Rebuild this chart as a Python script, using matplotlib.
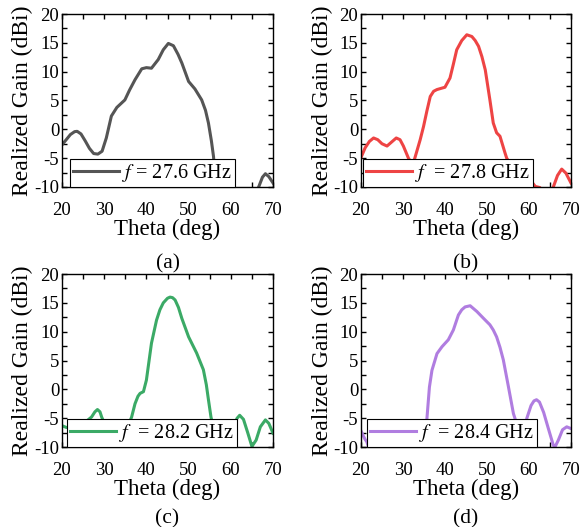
import matplotlib
matplotlib.use("Agg")
from matplotlib import pyplot as plt
from matplotlib.ticker import MultipleLocator

plt.rcParams['font.family'] = ['Liberation Serif', 'DejaVu Serif']
plt.rcParams['mathtext.fontset'] = 'stix'
plt.rcParams['axes.unicode_minus'] = False

# theta (deg) and realized gain (dBi)
theta_a = [20, 21, 22, 23, 23.6, 24.5, 25.5, 26.5, 27.5, 28.5, 29.5, 30.5, 31.7, 33, 34.9,
           36, 37.3, 38.9, 40, 41.2, 42.8, 44, 45.2, 46.4, 47.5, 48.4, 50, 51.5, 53.1,
           54, 54.7, 55.4, 55.9, 56.5, 58, 62, 65.5, 66.6, 67.5, 68.2, 69, 70]
gain_a = [-2.7, -1.8, -0.9, -0.4, -0.35, -0.8, -2.0, -3.3, -4.2, -4.3, -3.8, -1.5, 2.3, 3.8, 5.1,
          6.8, 8.6, 10.5, 10.7, 10.6, 12.1, 13.8, 14.9, 14.5, 13.0, 11.5, 8.3, 7.0, 5.1,
          3.3, 1.1, -2.0, -4.7, -10.2, -14, -16, -12, -10, -8.3, -7.7, -8.2, -9.3]

theta_b = [20, 21, 22, 23, 24, 25, 26.2, 27.3, 28.4, 29.3, 30.1, 31.3, 32, 32.7, 33.3,
           34.1, 34.9, 35.7, 36.5, 37.3, 38.1, 40, 41.2, 42, 42.8, 44, 45.2, 46.4, 47.2,
           48, 48.8, 49.6, 50.7, 51.5, 52.3, 53.1, 54.3, 54.7, 56, 58, 60, 61.5, 62.6,
           64, 65.8, 66.8, 67.8, 68.8, 70]
gain_b = [-4.9, -3.2, -2.1, -1.5, -1.8, -2.5, -2.9, -2.2, -1.5, -1.8, -2.9, -5.0, -5.8, -5.3, -3.8,
          -1.8, 0.5, 3.2, 5.7, 6.6, 6.9, 7.3, 8.9, 11.3, 13.8, 15.4, 16.4, 16.1, 15.4,
          14.4, 12.6, 10.3, 5.1, 1.1, -0.6, -1.2, -4.1, -5.0, -6.5, -7.5, -8.5, -9.9, -10.1,
          -12, -10, -8.0, -6.9, -7.6, -9.3]

theta_c = [20, 21, 23, 25, 27, 27.8, 28.4, 29, 29.4, 31, 33, 35, 36.5, 37.3, 38, 38.5,
           39.3, 40, 40.6, 41.2, 42.4, 43.2, 44, 45, 45.6, 46.2, 46.8, 47.6, 48.4, 50,
           51.9, 53.5, 54.2, 54.7, 55.3, 56.3, 57.5, 59, 60.5, 61.5, 62.1, 63, 64, 65,
           66, 67, 68.2, 69, 70]
gain_c = [-6.3, -6.6, -6.8, -6.0, -4.8, -3.9, -3.5, -3.9, -4.8, -7.5, -8.5, -7.5, -4.8, -2.5, -1.2, -0.7,
          -0.4, 1.6, 4.8, 8.0, 12.0, 13.8, 15.0, 15.8, 16.0, 15.9, 15.5, 14.2, 12.3, 9.1,
          6.3, 3.4, 0.8, -1.8, -4.8, -8.0, -10.3, -9.0, -6.5, -5.0, -4.5, -5.2, -7.5, -9.9,
          -8.8, -6.5, -5.3, -5.9, -7.6]

theta_d = [20, 20.5, 21, 21.4, 22, 25, 28, 31, 33, 34.5, 35.2, 35.7, 36.3, 36.9, 38.1, 39.3,
           40.8, 42, 43.2, 44, 44.8, 46, 47.6, 49.2, 50.7, 51.5, 52.3, 53.1, 53.9, 55.1,
           56.3, 56.7, 57.5, 58.3, 59, 59.5, 60.5, 61.2, 61.8, 62.5, 63.5, 64.5, 65.8,
           66.2, 67, 68, 69, 70]
gain_d = [-7.2, -8.0, -8.7, -9.1, -10.5, -14, -16, -15, -12, -9.0, -7.0, -5.1, 0.4, 3.3, 6.2, 7.4,
          8.6, 10.3, 12.9, 13.8, 14.3, 14.5, 13.5, 12.3, 11.2, 10.3, 9.1, 7.3, 5.1, 0.5,
          -4.2, -5.1, -8.0, -10.0, -7.0, -5.0, -2.8, -2.0, -1.8, -2.2, -4.0, -6.5, -9.7,
          -10.0, -8.8, -7.0, -6.5, -6.8]

thetas = [theta_a, theta_b, theta_c, theta_d]
gains = [gain_a, gain_b, gain_c, gain_d]
legend_labels = ['$f$ = 27.6 GHz', '$f$  = 27.8 GHz', '$f$  = 28.2 GHz', '$f$  = 28.4 GHz']
colors = ['#555555', '#EE4444', '#3BAA66', '#B07DE0']
panel_tags = ['(a)', '(b)', '(c)', '(d)']

fig = plt.figure(figsize=(5.81, 5.27), dpi=100)

# axes boxes in figure fraction: left, bottom, width, height
boxes = [[0.1067, 0.6452, 0.3632, 0.3282],
         [0.6213, 0.6452, 0.3614, 0.3282],
         [0.1067, 0.1518, 0.3632, 0.3282],
         [0.6213, 0.1518, 0.3614, 0.3282]]
legend_x = [0.038, 0.01, 0.024, 0.029]
tag_y = [-0.445, -0.445, -0.415, -0.415]

for i in range(4):
    ax = fig.add_axes(boxes[i])
    ax.plot(thetas[i], gains[i], color=colors[i], linewidth=2.2, label=legend_labels[i])
    ax.set_xlim(20, 70)
    ax.set_ylim(-10, 20)
    ax.xaxis.set_major_locator(MultipleLocator(10))
    ax.xaxis.set_minor_locator(MultipleLocator(5))
    ax.yaxis.set_major_locator(MultipleLocator(5))
    ax.yaxis.set_minor_locator(MultipleLocator(2.5))
    ax.tick_params(which='both', direction='in', top=True, right=True, labelsize=13.5,
                   length=3.5, width=1)
    ax.tick_params(axis='x', which='both', pad=11)
    ax.tick_params(axis='y', which='both', pad=2)
    for s in ax.spines.values():
        s.set_linewidth(1.0)
    ax.set_xlabel('Theta (deg)', fontsize=16.5)
    ax.set_ylabel('Realized Gain (dBi)', fontsize=17)
    ax.xaxis.set_label_coords(0.5, -0.185)
    ax.yaxis.set_label_coords(-0.135, 0.5)
    leg = ax.legend(loc='lower left', bbox_to_anchor=(legend_x[i], 0),
                    fontsize=14.5, frameon=True, fancybox=False, framealpha=1,
                    edgecolor='black', handlelength=2.3, handletextpad=0.15,
                    borderpad=0.15, borderaxespad=0)
    leg.get_frame().set_linewidth(0.8)
    ax.text(0.5, tag_y[i], panel_tags[i], transform=ax.transAxes,
            ha='center', va='center', fontsize=15.5)

fig.savefig('out.png', dpi=100)
